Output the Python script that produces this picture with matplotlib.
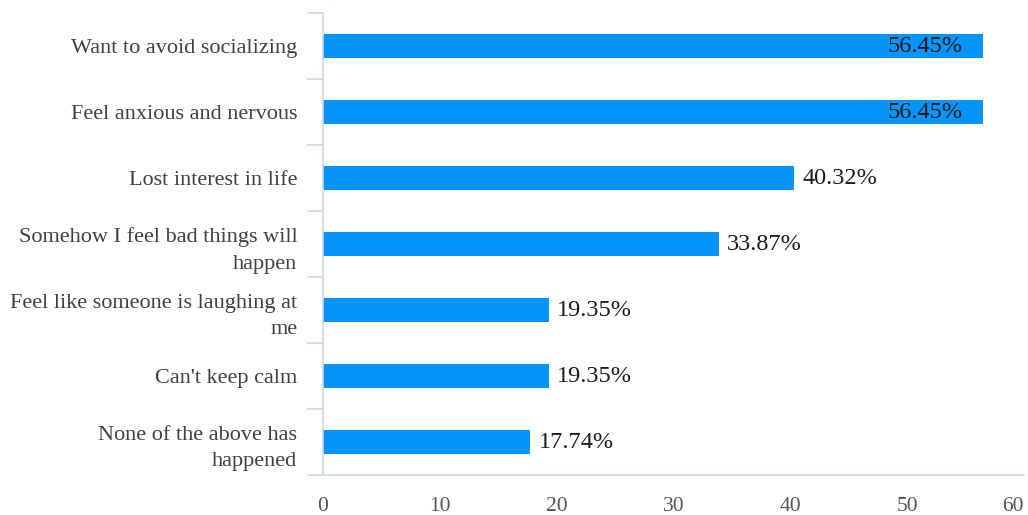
import numpy as np
import matplotlib.pyplot as plt

plt.rcParams['font.family'] = ['Liberation Serif', 'DejaVu Serif']

categories = ["Want to avoid socializing",
              "Feel anxious and nervous",
              "Lost interest in life",
              "Somehow I feel bad things will\nhappen",
              "Feel like someone is laughing at\nme",
              "Can't keep calm",
              "None of the above has\nhappened"]
values = [56.45, 56.45, 40.32, 33.87, 19.35, 19.35, 17.74]
xticks = [0, 10, 20, 30, 40, 50, 60]

axis_col = '#c9d6e8'
bar_col = '#0494fc'

fig = plt.figure(figsize=(10.28, 5.15), dpi=100)
ax = fig.add_axes([323/1028, 1 - 475/515, (1024 - 323)/1028, (475 - 13)/515])

n = len(categories)
y = np.arange(n)
ax.barh(y, values, height=0.35, color=bar_col)
ax.set_ylim(n - 0.5, -0.5)
ax.set_xlim(0, 60)

# category labels on bar centres, separator ticks on the boundaries
ax.set_yticks(y)
ax.set_yticklabels(categories, fontsize=16, color='#404040', linespacing=1.55)
ax.tick_params(axis='y', which='major', length=0, pad=18.5)
ax.set_yticks(np.arange(n + 1) - 0.5, minor=True)
ax.tick_params(axis='y', which='minor', length=11.5, color=axis_col, width=1.2)

ax.set_xticks(xticks)
xlabs = ax.set_xticklabels([str(t) for t in xticks], fontsize=15.5, color='#555555')
xlabs[-1].set_horizontalalignment('right')
xlabs[-1].set_x(60)
ax.tick_params(axis='x', length=0, pad=16)

for s in ['top', 'right']:
    ax.spines[s].set_visible(False)
ax.spines['left'].set_color(axis_col)
ax.spines['bottom'].set_color(axis_col)
ax.spines['left'].set_linewidth(1.2)
ax.spines['bottom'].set_linewidth(1.2)

for yi, v in zip(y, values):
    lab = f"{v:.2f}%"
    if v > 50:
        ax.text(v - 1.7, yi, lab, ha='right', va='center', fontsize=17.5, color='#1a1a1a')
    else:
        ax.text(v + 0.7, yi, lab, ha='left', va='center', fontsize=17.5, color='#1a1a1a')

fig.savefig('out.png', dpi=100)
